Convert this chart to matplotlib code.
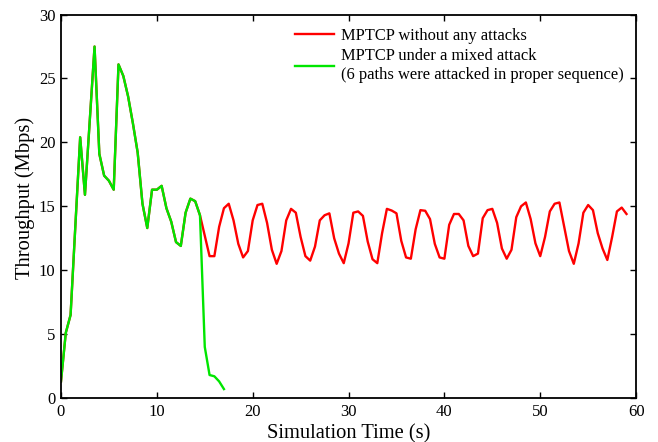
import numpy as np
import matplotlib
matplotlib.use("Agg")
import matplotlib.pyplot as plt

# 采样间隔 (s)
dt = 0.5

# 0 ~ 14.5 s 两条曲线重合的部分 (Mbps)
shared_early = [1.3, 5.1, 6.5, 13.5, 20.4, 15.9, 21.7, 27.5, 19.1, 17.4,
                17.0, 16.3, 26.1, 25.2, 23.6, 21.5, 19.2, 15.2, 13.3, 16.3,
                16.3, 16.6, 14.85, 13.8, 12.2, 11.9, 14.5, 15.6, 15.4, 14.3]

# 无攻击时 15 ~ 59 s 的吞吐量
normal_tail = [12.7, 11.1, 11.1, 13.4, 14.85, 15.2, 13.9, 12.06, 11.0, 11.5,
               13.9, 15.1, 15.2, 13.7, 11.6, 10.5, 11.5, 13.9, 14.8, 14.5,
               12.6, 11.1, 10.75, 11.85, 13.9, 14.3, 14.45, 12.5, 11.3, 10.55,
               12.1, 14.5, 14.6, 14.25, 12.24, 10.86, 10.55, 12.9, 14.8, 14.67,
               14.45, 12.3, 11.0, 10.9, 13.2, 14.7, 14.65, 14.0, 12.06, 11.0,
               10.9, 13.55, 14.4, 14.4, 13.9, 11.9, 11.1, 11.3, 14.07, 14.7,
               14.8, 13.7, 11.7, 10.9, 11.6, 14.15, 15.0, 15.3, 14.0, 12.1,
               11.1, 12.6, 14.6, 15.2, 15.3, 13.4, 11.5, 10.5, 12.1, 14.5,
               15.1, 14.7, 12.9, 11.7, 10.8, 12.6, 14.6, 14.9, 14.4]

# 混合攻击下 15 ~ 17 s 的吞吐量
attack_tail = [4.0, 1.8, 1.7, 1.3, 0.7]

labels = ["MPTCP without any attacks",
          "MPTCP under a mixed attack\n(6 paths were attacked in proper sequence)"]
x_ticks = [0, 10, 20, 30, 40, 50, 60]
y_ticks = [0, 5, 10, 15, 20, 25, 30]

normal = np.array(shared_early + normal_tail)
attack = np.array(shared_early + attack_tail)
t_normal = np.arange(len(normal)) * dt
t_attack = np.arange(len(attack)) * dt

plt.rcParams['font.family'] = ['Liberation Serif', 'DejaVu Serif']
plt.rcParams['mathtext.fontset'] = 'stix'

fig = plt.figure(figsize=(6.58, 4.42), dpi=100)
ax = fig.add_axes([0.0927, 0.0995, 0.874, 0.8675])

ax.plot(t_normal, normal, color='#ff0000', lw=1.7, label=labels[0])
ax.plot(t_attack, attack, color='#00e600', lw=1.7, label=labels[1])

ax.set_xlim(0, 60)
ax.set_ylim(0, 30)
ax.set_xticks(x_ticks)
ax.set_yticks(y_ticks)
ax.tick_params(direction='in', top=True, right=True, length=4.5, width=1,
               labelsize=12, pad=4)
for s in ax.spines.values():
    s.set_linewidth(1.3)

ax.set_xlabel('Simulation Time (s)', fontsize=14.8, labelpad=3)
ax.set_ylabel('Throughput (Mbps)', fontsize=14.8)
ax.yaxis.set_label_coords(-0.045, 0.522)

leg = ax.legend(loc='upper right', bbox_to_anchor=(1.0, 0.996),
                frameon=False, fontsize=11.9, handlelength=2.35,
                handletextpad=0.43, labelspacing=0.25, borderaxespad=0.33)
leg.get_texts()[1].set_linespacing(1.2)

fig.savefig('out.png', dpi=100)
